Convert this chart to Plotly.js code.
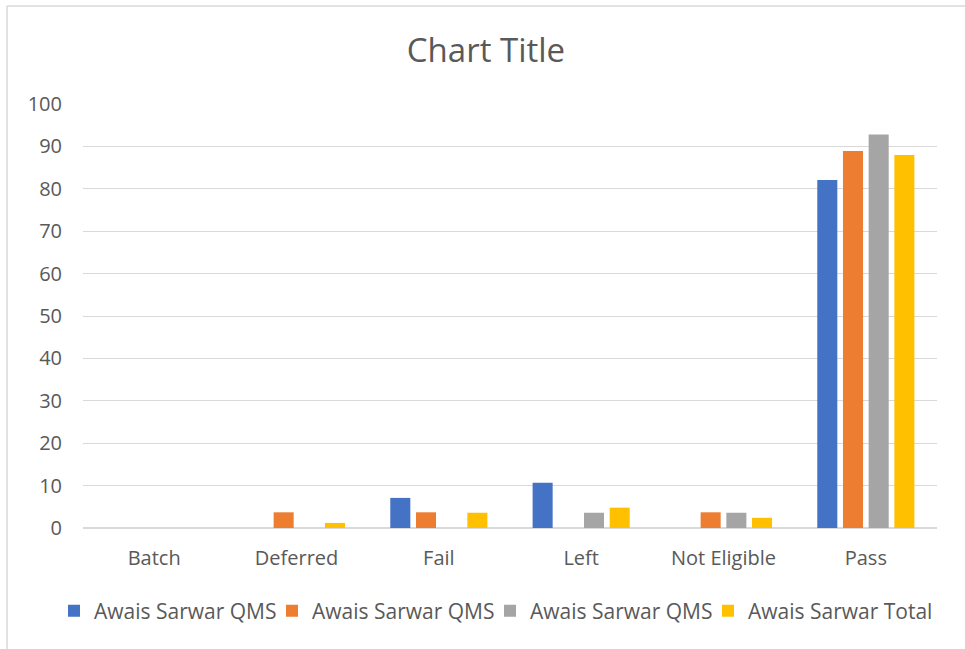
<!DOCTYPE html>
<html>
<head>
<meta charset="utf-8">
<script src="https://cdn.plot.ly/plotly-3.0.1.min.js"></script>
<style>
html,body{margin:0;padding:0;background:#fff;}
#chart{width:965px;height:649px;}
</style>
</head>
<body>
<div id="chart"></div>
<script>
var categories = ["Batch", "Deferred", "Fail", "Left", "Not Eligible", "Pass"];
var seriesNames = ["Awais Sarwar QMS", "Awais Sarwar QMS", "Awais Sarwar QMS", "Awais Sarwar Total"];
var series1 = [0, 0, 7.1, 10.7, 0, 82.1];
var series2 = [0, 3.7, 3.7, 0, 3.7, 88.9];
var series3 = [0, 0, 0, 3.6, 3.6, 92.8];
var series4 = [0, 1.2, 3.6, 4.8, 2.4, 88.0];
var yTicks = [0, 10, 20, 30, 40, 50, 60, 70, 80, 90, 100];

var colors = ["#4472C4", "#ED7D31", "#A5A5A5", "#FFC000"];
var allSeries = [series1, series2, series3, series4];
var FONT = "Open Sans, Liberation Sans, sans-serif";
var TXT = "#595959";
var legendIds = ["legend", "legend2", "legend3", "legend4"];
var legendLeft = [54, 272, 490, 708];

var traces = allSeries.map(function (vals, i) {
  return {
    type: "bar",
    x: categories,
    y: vals,
    name: seriesNames[i],
    legend: legendIds[i],
    marker: {color: colors[i], line: {width: 0}},
    hoverinfo: "x+y+name"
  };
});

var layout = {
  width: 965,
  height: 649,
  margin: {l: 83, r: 28, t: 104, b: 121},
  paper_bgcolor: "#ffffff",
  plot_bgcolor: "#ffffff",
  font: {family: FONT, color: TXT, size: 20},
  title: {
    text: "Chart Title",
    font: {family: FONT, size: 33, color: TXT},
    x: 486 / 965, xref: "container", xanchor: "center",
    y: 1 - 50 / 649, yref: "container", yanchor: "middle"
  },
  barmode: "group",
  bargap: 0.278,
  bargroupgap: 0.22,
  xaxis: {
    type: "category",
    showgrid: false,
    showline: false,
    ticks: "",
    tickfont: {family: FONT, size: 20, color: TXT},
    ticklabelstandoff: 16,
    fixedrange: true
  },
  yaxis: {
    range: [0, 100],
    tickvals: yTicks,
    ticktext: yTicks.map(String),
    showgrid: true,
    gridcolor: "#D9D9D9",
    gridwidth: 1,
    zeroline: true,
    zerolinecolor: "#D9D9D9",
    zerolinewidth: 1.5,
    showline: false,
    ticks: "",
    tickfont: {family: FONT, size: 20, color: TXT},
    ticklabelstandoff: 20,
    fixedrange: true
  },
  showlegend: true,
  shapes: [
    {type: "line", xref: "paper", yref: "paper", x0: (7 - 83) / 854, x1: (7 - 83) / 854, y0: (528 - 6) / 424, y1: (528 - 660) / 424, line: {color: "#D9D9D9", width: 1.5}},
    {type: "line", xref: "paper", yref: "paper", x0: (7 - 83) / 854, x1: (970 - 83) / 854, y0: (528 - 6) / 424, y1: (528 - 6) / 424, line: {color: "#D9D9D9", width: 1.5}}
  ]
};

legendIds.forEach(function (id, i) {
  layout[id] = {
    orientation: "h",
    x: legendLeft[i] / 965, xref: "container", xanchor: "left",
    y: 38 / 649, yref: "container", yanchor: "middle",
    font: {family: FONT, size: 21, color: TXT},
    itemclick: false,
    itemdoubleclick: false,
    itemwidth: 30,
    bgcolor: "rgba(0,0,0,0)"
  };
});

Plotly.newPlot("chart", traces, layout, {displayModeBar: false});
</script>
</body>
</html>
